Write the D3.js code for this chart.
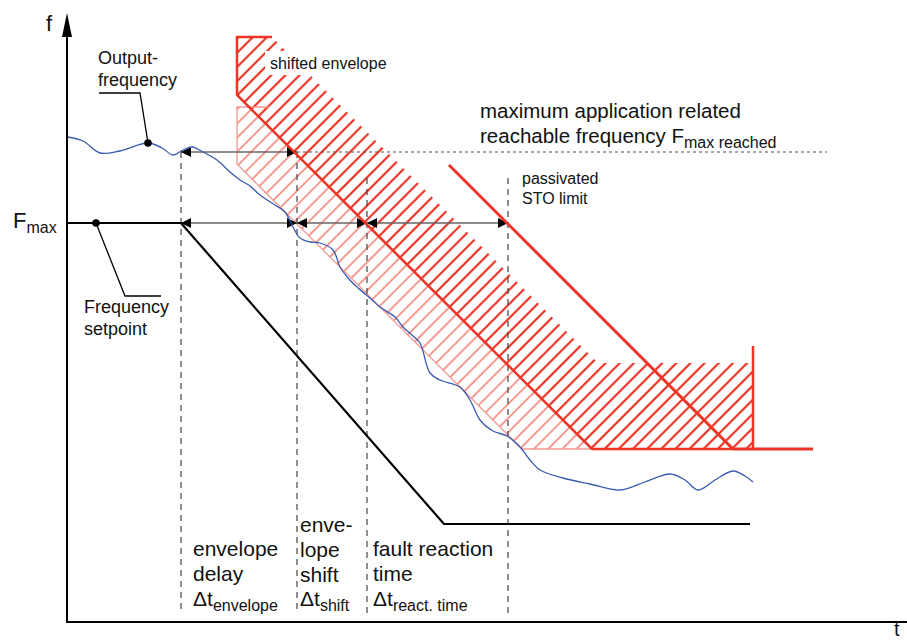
<!DOCTYPE html>
<html>
<head>
<meta charset="utf-8">
<script src="https://cdn.jsdelivr.net/npm/d3@7"></script>
<style>
  body { margin: 0; background: #fff; }
  svg { display: block; font-family: "Liberation Sans", Arial, sans-serif; }
</style>
</head>
<body>
<svg id="chart" width="907" height="641"></svg>
<script>
// values (t, f in drawing units)
const fMax = 399;
const fMaxReached = 470;
const markTimes = [114, 230, 300, 441];
const markTops = [470, 470, 444, 444];
const setpoint = [[0, 399], [114, 399], [377, 98], [683, 98]];
const output = [[0,485],[16,481],[33,469],[53,471],[81,479],[95,474],[106,467],[116,472],[125,475],[136,470],[150,462],[163,450],[173,442],[183,436],[193,427],[208,417],[218,410],[226,395],[233,384],[243,380],[253,379],[266,372],[273,355],[281,344],[290,335],[303,324],[313,315],[328,305],[336,295],[345,287],[353,279],[363,249],[373,242],[393,235],[403,222],[413,202],[426,191],[440,186],[453,175],[463,162],[473,152],[496,144],[523,138],[553,132],[578,140],[603,148],[618,142],[631,132],[648,142],[666,151],[678,146],[686,140]];
const shiftedEnv = [[170,585],[205,585],[531,259],[686,259],[686,173],[525,173],[170,527]];
const envelopeArea = [[170,515],[182,515],[525,173],[455,173],[170,458]];
const envelopeEdge = [[203,515],[170,515],[170,458],[455,173],[525,173]];
const shiftedEdge = [[205,585],[170,585],[170,527],[525,173]];
const stoLimit = [[382,457],[666,173],[746,173]];
const bottomEdge = [[525,173],[666,173]];
const rightEdge = [[686,276],[686,173]];
const setDot = [29, 399], setLeader = [[29,399],[58,326],[94,326]];
const outDot = [81, 479], outLeader = [[81,479],[73,529],[32,529]];

const svg = d3.select("#chart");
const x = d3.scaleLinear().domain([0, 840]).range([67, 907]);
const y = d3.scaleLinear().domain([0, 610]).range([622, 12]);
const line = d3.line().x(d => x(d[0])).y(d => y(d[1]));
const red = "#ec3427";

const defs = svg.append("defs");
function hatch(id, color, w) {
  const p = defs.append("pattern").attr("id", id)
    .attr("patternUnits", "userSpaceOnUse").attr("width", 10).attr("height", 10)
    .attr("patternTransform", "rotate(45)");
  p.append("line").attr("x1", 5).attr("y1", -2).attr("x2", 5).attr("y2", 12)
    .attr("stroke", color).attr("stroke-width", w);
}
hatch("darkHatch", red, 2.2);
hatch("lightHatch", "#f04636", 1.1);

defs.append("marker").attr("id", "arr")
  .attr("viewBox", "0 0 10 10").attr("refX", 10).attr("refY", 5)
  .attr("markerUnits", "userSpaceOnUse").attr("markerWidth", 12).attr("markerHeight", 10)
  .attr("orient", "auto-start-reverse")
  .append("path").attr("d", "M0,0L10,5L0,10Z").attr("fill", "#000");

// hatched envelopes
svg.append("path").datum(envelopeArea).attr("d", line).attr("fill", "url(#lightHatch)");
svg.append("path").datum(shiftedEnv).attr("d", line).attr("fill", "url(#darkHatch)");
svg.append("path").datum(envelopeEdge).attr("d", line)
  .attr("fill", "none").attr("stroke", "#f39990").attr("stroke-width", 1.3);

// dashed time marks
svg.selectAll(".mark").data(markTimes).enter().append("line")
  .attr("x1", d => x(d)).attr("x2", d => x(d))
  .attr("y1", (d, i) => y(markTops[i])).attr("y2", y(9))
  .attr("stroke", "#444").attr("stroke-width", 1.2).attr("stroke-dasharray", "6,5");

// Fmax reached dotted line
svg.append("line").attr("x1", x(markTimes[1])).attr("x2", x(760))
  .attr("y1", y(fMaxReached)).attr("y2", y(fMaxReached))
  .attr("stroke", "#555").attr("stroke-width", 1.2).attr("stroke-dasharray", "3,3");

// arrows
const spans = [[markTimes[0], markTimes[1], fMaxReached],
  [markTimes[0], markTimes[1], fMax], [markTimes[1], markTimes[2], fMax], [markTimes[2], markTimes[3], fMax]];
svg.selectAll(".span").data(spans).enter().append("line")
  .attr("x1", d => x(d[0])).attr("x2", d => x(d[1]))
  .attr("y1", d => y(d[2])).attr("y2", d => y(d[2]))
  .attr("stroke", "#666").attr("stroke-width", 1.6)
  .attr("marker-start", "url(#arr)").attr("marker-end", "url(#arr)");

// red lines
svg.append("path").datum(shiftedEdge).attr("d", line)
  .attr("fill", "none").attr("stroke", red).attr("stroke-width", 2.5);
svg.append("path").datum(stoLimit).attr("d", line)
  .attr("fill", "none").attr("stroke", red).attr("stroke-width", 3);
svg.append("path").datum(bottomEdge).attr("d", line)
  .attr("fill", "none").attr("stroke", red).attr("stroke-width", 2.5);
svg.append("path").datum(rightEdge).attr("d", line)
  .attr("fill", "none").attr("stroke", red).attr("stroke-width", 2.5);

// output frequency
svg.append("path").datum(output).attr("d", line.curve(d3.curveCatmullRom))
  .attr("fill", "none").attr("stroke", "#3a5bb0").attr("stroke-width", 1.3);
line.curve(d3.curveLinear);

// setpoint
svg.append("path").datum(setpoint).attr("d", line)
  .attr("fill", "none").attr("stroke", "#000").attr("stroke-width", 2.2);

// leaders
[[setLeader, setDot], [outLeader, outDot]].forEach(([l, p]) => {
  svg.append("path").datum(l).attr("d", line)
    .attr("fill", "none").attr("stroke", "#000").attr("stroke-width", 1.3);
  svg.append("circle").attr("cx", x(p[0])).attr("cy", y(p[1])).attr("r", 3.8).attr("fill", "#000");
});

// axes
svg.append("line").attr("x1", x(0)).attr("x2", x(0)).attr("y1", y(0)).attr("y2", y(597))
  .attr("stroke", "#000").attr("stroke-width", 2);
svg.append("path").attr("d", `M${x(0)-5},${y(585)}L${x(0)},${y(609)}L${x(0)+5},${y(585)}Z`).attr("fill", "#000");
svg.append("line").attr("x1", x(0) - 1).attr("x2", 907).attr("y1", y(0)).attr("y2", y(0))
  .attr("stroke", "#000").attr("stroke-width", 2);

// texts
function label(px, py, parts, size) {
  const t = svg.append("text").attr("x", px).attr("y", py).attr("font-size", size).attr("fill", "#111");
  parts.forEach(p => {
    const s = t.append("tspan").text(p.t);
    if (p.sub) s.attr("font-size", p.sub).attr("dy", p.dy);
  });
  return t;
}
label(46, 31, [{t: "f"}], 22);
label(894, 636, [{t: "t"}], 20);
label(13, 228, [{t: "F"}, {t: "max", sub: 16, dy: 5}], 22);
label(98, 64, [{t: "Output-"}], 18);
label(98, 86, [{t: "frequency"}], 18);
label(84, 313, [{t: "Frequency"}], 18);
label(84, 335, [{t: "setpoint"}], 18);
const se = label(270, 69, [{t: "shifted envelope"}], 16);
const bb = se.node().getBBox();
svg.insert("rect", "text").attr("x", bb.x - 5).attr("y", bb.y - 4)
  .attr("width", bb.width + 8).attr("height", bb.height + 7).attr("fill", "#fff");
label(480, 118, [{t: "maximum application related"}], 20.5);
label(480, 143, [{t: "reachable frequency F"}, {t: "max reached", sub: 16, dy: 5}], 20.5);
label(522, 184, [{t: "passivated"}], 16);
label(522, 204, [{t: "STO limit"}], 16);
label(193, 556, [{t: "envelope"}], 21);
label(193, 581, [{t: "delay"}], 21);
label(193, 606, [{t: "\u0394t"}, {t: "envelope", sub: 16, dy: 5}], 21);
label(300, 532, [{t: "enve-"}], 21);
label(300, 557, [{t: "lope"}], 21);
label(300, 582, [{t: "shift"}], 21);
label(300, 606, [{t: "\u0394t"}, {t: "shift", sub: 16, dy: 5}], 21);
label(373, 556, [{t: "fault reaction"}], 21);
label(373, 581, [{t: "time"}], 21);
label(373, 606, [{t: "\u0394t"}, {t: "react. time", sub: 16, dy: 5}], 21);
</script>
</body>
</html>
